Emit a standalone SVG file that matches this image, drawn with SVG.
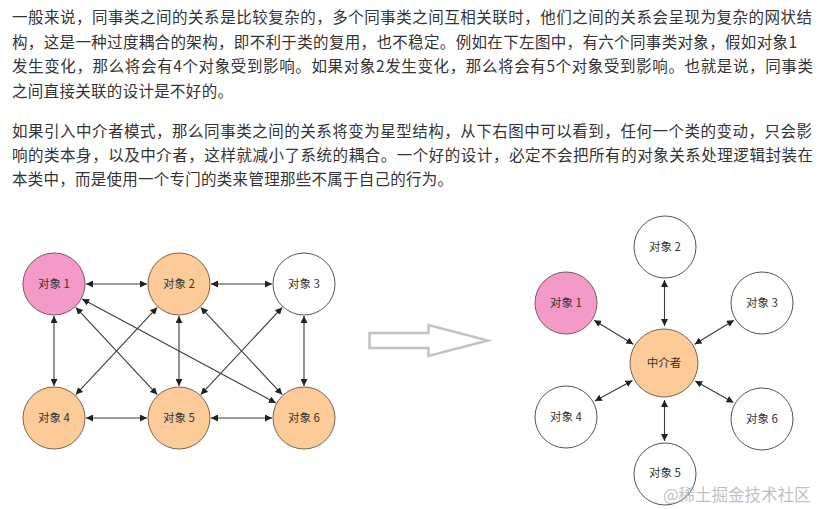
<svg xmlns="http://www.w3.org/2000/svg" width="821" height="509" viewBox="0 0 821 509">
<defs>
<style>
.p{font-family:"Noto Sans CJK SC","Liberation Sans",sans-serif;font-size:15.5px;fill:#333}
.lbl{font-family:"Noto Sans CJK SC","Liberation Sans",sans-serif;font-size:11.5px;fill:#333;text-anchor:middle}
.pink{fill:#f49ac9;stroke:#7a5a66;stroke-width:1}
.org{fill:#fccb98;stroke:#7a6550;stroke-width:1}
.wht{fill:#fff;stroke:#555;stroke-width:1}
.c line{stroke:#3a3a3a;stroke-width:1.1;marker-start:url(#ah);marker-end:url(#ah)}
.wm{font-family:"Noto Sans CJK SC","Liberation Sans",sans-serif;font-size:16.5px;fill:#b4b4b4;fill-opacity:0.85}
</style>
<marker id="ah" viewBox="0 0 10 10" refX="10" refY="5" markerWidth="7" markerHeight="7" markerUnits="userSpaceOnUse" orient="auto-start-reverse">
<path d="M0,0 L10,5 L0,10 z" fill="#222"/>
</marker>
</defs>
<rect width="821" height="509" fill="#fff"/>
<g id="text">
<text class="p" x="12" y="23" textLength="800" lengthAdjust="spacing">一般来说，同事类之间的关系是比较复杂的，多个同事类之间互相关联时，他们之间的关系会呈现为复杂的网状结</text>
<text class="p" x="12" y="47.5" textLength="785" lengthAdjust="spacing">构，这是一种过度耦合的架构，即不利于类的复用，也不稳定。例如在下左图中，有六个同事类对象，假如对象1</text>
<text class="p" x="12" y="72" textLength="801" lengthAdjust="spacing">发生变化，那么将会有4个对象受到影响。如果对象2发生变化，那么将会有5个对象受到影响。也就是说，同事类</text>
<text class="p" x="12" y="96.5" textLength="221" lengthAdjust="spacing">之间直接关联的设计是不好的。</text>
<text class="p" x="12" y="137" textLength="800" lengthAdjust="spacing">如果引入中介者模式，那么同事类之间的关系将变为星型结构，从下右图中可以看到，任何一个类的变动，只会影</text>
<text class="p" x="12" y="161" textLength="801" lengthAdjust="spacing">响的类本身，以及中介者，这样就减小了系统的耦合。一个好的设计，必定不会把所有的对象关系处理逻辑封装在</text>
<text class="p" x="12" y="185" textLength="441" lengthAdjust="spacing">本类中，而是使用一个专门的类来管理那些不属于自己的行为。</text>
</g>
<g id="connectors-left" class="c">
<line x1="86" y1="284" x2="147" y2="284"/>
<line x1="211" y1="284" x2="272" y2="284"/>
<line x1="86" y1="418" x2="147" y2="418"/>
<line x1="211" y1="418" x2="272" y2="418"/>
<line x1="54" y1="316" x2="54" y2="386"/>
<line x1="179" y1="316" x2="179" y2="386"/>
<line x1="304" y1="316" x2="304" y2="386"/>
<line x1="75.8" y1="307.4" x2="157.2" y2="394.6"/>
<line x1="200.8" y1="307.4" x2="282.2" y2="394.6"/>
<line x1="157.2" y1="307.4" x2="75.8" y2="394.6"/>
<line x1="282.2" y1="307.4" x2="200.8" y2="394.6"/>
<line x1="82.2" y1="299.1" x2="275.8" y2="402.9"/>
</g>
<g id="l1"><circle class="pink" cx="54" cy="284" r="31"/><text class="lbl" x="54" y="288">对象 1</text></g>
<g id="l2"><circle class="org" cx="179" cy="284" r="31"/><text class="lbl" x="179" y="288">对象 2</text></g>
<g id="l3"><circle class="wht" cx="304" cy="284" r="31"/><text class="lbl" x="304" y="288">对象 3</text></g>
<g id="l4"><circle class="org" cx="54" cy="418" r="31"/><text class="lbl" x="54" y="422">对象 4</text></g>
<g id="l5"><circle class="org" cx="179" cy="418" r="31"/><text class="lbl" x="179" y="422">对象 5</text></g>
<g id="l6"><circle class="org" cx="304" cy="418" r="31"/><text class="lbl" x="304" y="422">对象 6</text></g>
<g id="bigarrow">
<polygon points="369.5,333 428.5,333 428.5,325 488,340.5 428.5,356 428.5,348 369.5,348" fill="#fff" stroke="#c2c2c2" stroke-width="2.5" stroke-linejoin="miter"/>
</g>
<g id="connectors-right" class="c">
<line x1="664.5" y1="280" x2="664.5" y2="326"/>
<line x1="594.1" y1="320.2" x2="633.3" y2="344.2"/>
<line x1="733.9" y1="320.2" x2="694.7" y2="344.2"/>
<line x1="594.9" y1="401.1" x2="632.5" y2="380.4"/>
<line x1="733.4" y1="402.6" x2="695.2" y2="380.9"/>
<line x1="664.5" y1="400" x2="664.5" y2="441"/>
</g>
<g id="mediator"><circle class="org" cx="664" cy="363" r="34"/><text class="lbl" x="664" y="367">中介者</text></g>
<g id="r1"><circle class="pink" cx="566" cy="303" r="31"/><text class="lbl" x="566" y="307">对象 1</text></g>
<g id="r2"><circle class="wht" cx="665" cy="247" r="31"/><text class="lbl" x="665" y="251">对象 2</text></g>
<g id="r3"><circle class="wht" cx="762" cy="303" r="31"/><text class="lbl" x="762" y="307">对象 3</text></g>
<g id="r4"><circle class="wht" cx="566" cy="417" r="31"/><text class="lbl" x="566" y="421">对象 4</text></g>
<g id="r5"><circle class="wht" cx="665" cy="474" r="31"/><text class="lbl" x="665" y="477">对象 5</text></g>
<g id="r6"><circle class="wht" cx="762" cy="419" r="31"/><text class="lbl" x="762" y="423">对象 6</text></g>
<g id="watermark"><text class="wm" x="663" y="500.5">@稀土掘金技术社区</text></g>
</svg>
